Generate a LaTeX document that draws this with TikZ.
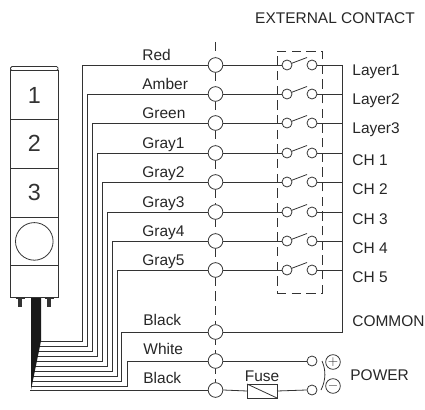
\documentclass[tikz,border=0pt]{standalone}
\usepackage{fontspec}
\setmainfont{Liberation Sans}
\usetikzlibrary{arrows, positioning}

\begin{document}
\begin{tikzpicture}[x=0.75pt, y=-0.75pt, line width=0.6pt, black!80]
	\tikzset {node distance=0pt,
		cell/.style={draw, outer sep=0pt, inner sep=0pt, minimum width=35.6pt, minimum height=36.6pt, font=\fontsize{17.5}{18}\selectfont},
		term/.style={circle, draw, fill=white, inner sep=0pt, minimum size=11pt},
		contact/.style={circle, draw, fill=white, inner sep=0pt, minimum size=7.5pt},
		sign/.style={circle, draw, inner sep=0pt, minimum size=11pt, font=\fontsize{10}{10}\selectfont},
		tag/.style={inner sep=0pt, text=black!85, font=\fontsize{11.6}{13}\selectfont} }
	\useasboundingbox (0,0) rectangle (425,410);

	% lamp
	\node[cell] (1) at (34.3,95) {1};
	\node[cell, below=of 1] (2) {2};
	\node[cell, below=of 2] (3) {3};
	\node[cell, below=of 3] (lens) {};
	\node[cell, below=of lens, minimum height=24pt] (base) {};
	\node[circle, draw, inner sep=0pt, minimum size=28.2pt] (knob) at (lens) {};
	\node[draw, rounded corners=1pt, inner sep=0pt, outer sep=0pt, minimum width=35.6pt, minimum height=3pt, above=of 1] (cap) {};
	\node[fill=black!80, inner sep=0pt, minimum width=2.6pt, minimum height=6pt] (bolt1) at (20,303) {};
	\node[fill=black!80, inner sep=0pt, minimum width=2.6pt, minimum height=6pt] (bolt2) at (49,303) {};
	\draw (15.5,298.5) -- (24.5,298.5) (44.5,298.5) -- (53.5,298.5);

	% dashed line behind the terminals
	\coordinate (top) at (215.5,42);
	\coordinate (bot) at (215.5,398);
	\draw[dash pattern=on 7pt off 4pt] (top) -- (bot);

	% dashed box of the contacts
	\node[draw, dash pattern=on 7pt off 4pt, outer sep=0pt, minimum width=33.7pt, minimum height=181.5pt] (box) at (299.5,172) {};

	% wires with a switch
	\coordinate (com) at (342,65);
	\foreach \i/\y/\v/\b/\l/\name/\out in {1/65/82/341/40/Red/Layer1, 2/94/87/346/39/Amber/Layer2, 3/123/92/351/38/Green/Layer3, 4/153/97/356/37/Gray1/CH 1, 5/182/102/361/36/Gray2/CH 2, 6/212/107/366/35/Gray3/CH 3, 7/241/112/371/34/Gray4/CH 4, 8/270/117/376/33/Gray5/CH 5} {
		\node[term] (t\i) at (215.5,\y) {};
		\node[contact] (a\i) at (287,\y) {};
		\node[contact] (b\i) at (312,\y) {};
		\node[tag, anchor=base west] (n\i) at (142,\y-4.5) {\name};
		\node[tag, anchor=west] (o\i) at (352,\y+7) {\out};
		\draw (t\i.west) -- (\v,\y) -- (\v,\b) -- (\l,\b);
		\draw (t\i.east) -- (a\i.west);
		\draw (a\i.20) -- (307,\y-7.5);
		\draw (b\i.east) -- (342,\y);
	}

	% wires without a switch
	\node[term] (t9) at (215.5,332) {};
	\node[term] (t10) at (215.5,361) {};
	\node[term] (t11) at (215.5,390) {};
	\node[tag, anchor=base west] (n9) at (143,325) {Black};
	\node[tag, anchor=base west] (n10) at (143,354) {White};
	\node[tag, anchor=base west] (n11) at (143,383) {Black};
	\draw (t9.west) -- (121,332) -- (121,381) -- (32,381);
	\draw (t10.west) -- (127,361) -- (127,386) -- (31,386);
	\draw (t11.west) -- (30,390);

	% common
	\draw (com) -- (342,332) -- (t9.east);
	\node[tag, anchor=west] (common) at (352,321) {COMMON};

	% power
	\node[draw, outer sep=0pt, inner sep=0pt, minimum width=22.5pt, minimum height=10.5pt] (fuse) at (262,391) {};
	\node[tag, above=1.5pt of fuse] (fuselabel) {Fuse};
	\node[contact] (c1) at (312,361) {};
	\node[contact] (c2) at (312,390) {};
	\node[sign] (plus) at (333,362) {$+$};
	\node[sign] (minus) at (333,386) {$-$};
	\node[tag, anchor=west] (power) at (350,375) {POWER};
	\draw (fuse.north west) -- (fuse.south east);
	\draw (t10.east) -- (c1.west);
	\draw (t11.east) -- (fuse.west);
	\draw (fuse.east) -- (c2.west);
	\draw (322,361) .. controls (326,370) and (326,380) .. (321,390);

	% cable
	\fill[black!90] (31,298) -- (41,298) -- (41,341) -- (31,390) -- cycle;

	\node[tag] (external) at (335,18) {EXTERNAL CONTACT};
\end{tikzpicture}
\end{document}
